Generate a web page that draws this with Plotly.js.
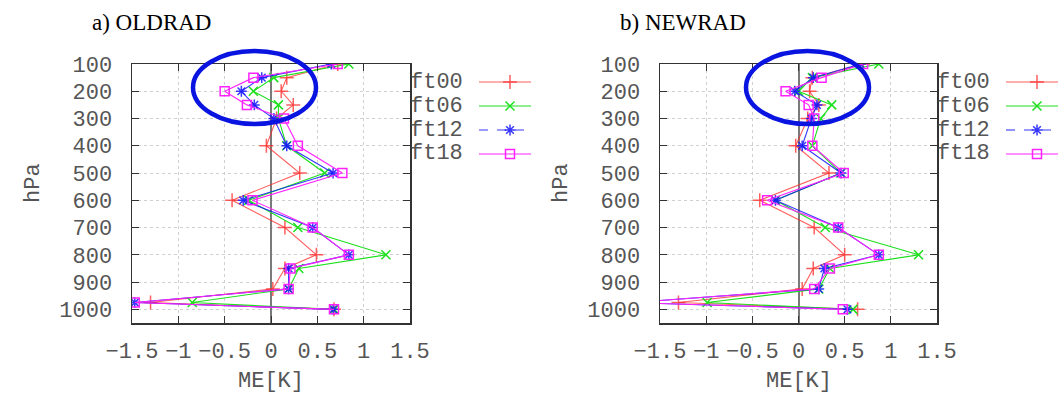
<!DOCTYPE html>
<html>
<head>
<meta charset="utf-8">
<script src="https://cdn.plot.ly/plotly-3.0.1.min.js"></script>
<style>html,body{margin:0;padding:0;background:#fff;}#chart{width:1061px;height:396px;}</style>
</head>
<body>
<div id="chart"></div>
<script>
// ---- data ----
const levels = [100, 150, 200, 250, 300, 400, 500, 600, 700, 800, 850, 925, 975, 1000];
const seriesNames = ['ft00', 'ft06', 'ft12', 'ft18'];
const panelTitles = ['a) OLDRAD', 'b) NEWRAD'];
const xTickVals = [-1.5, -1, -0.5, 0, 0.5, 1, 1.5];
const xTickText = ['\u22121.5', '\u22121', '\u22120.5', '0', '0.5', '1', '1.5'];
const yTickVals = [100, 200, 300, 400, 500, 600, 700, 800, 900, 1000];

// OLDRAD (panel a)
const old_ft00 = [0.72, 0.17, 0.11, 0.24, 0.06, -0.05, 0.31, -0.42, 0.15, 0.49, 0.15, 0.02, -1.30, 0.68];
const old_ft06 = [0.84, 0.03, -0.19, 0.08, 0.08, 0.17, 0.58, -0.24, 0.29, 1.24, 0.30, 0.19, -0.85, 0.68];
const old_ft12 = [0.65, -0.10, -0.32, -0.18, 0.03, 0.17, 0.67, -0.30, 0.45, 0.84, 0.19, 0.19, -1.47, 0.67];
const old_ft18 = [0.72, -0.19, -0.50, -0.26, 0.14, 0.29, 0.77, -0.20, 0.45, 0.84, 0.21, 0.19, -1.47, 0.68];

// NEWRAD (panel b)
const new_ft00 = [0.70, 0.15, 0.12, 0.22, 0.10, -0.03, 0.33, -0.42, 0.17, 0.50, 0.16, 0.04, -1.30, 0.64];
const new_ft06 = [0.87, 0.15, 0.00, 0.36, 0.24, 0.15, 0.46, -0.25, 0.29, 1.30, 0.34, 0.22, -0.99, 0.59];
const new_ft12 = [0.67, 0.16, -0.04, 0.20, 0.14, 0.04, 0.46, -0.25, 0.43, 0.87, 0.28, 0.22, -1.80, 0.53];
const new_ft18 = [0.70, 0.25, -0.14, 0.11, 0.17, 0.15, 0.49, -0.34, 0.43, 0.87, 0.34, 0.17, -1.80, 0.48];

// ---- styles ----
const styles = [
  {color: 'rgba(255,40,40,0.75)', symbol: 'cross-thin-open', size: 10},
  {color: '#1ee01e', symbol: 'x-thin-open', size: 9},
  {color: 'rgba(20,20,255,0.85)', symbol: 'asterisk-open', size: 9},
  {color: '#ff22ff', symbol: 'square-open', size: 9}
];

const W = 1061, H = 396;
function px(x) { return x / W; }
function py(y) { return 1 - y / H; }

const panels = [
  {data: [old_ft00, old_ft06, old_ft12, old_ft18], xa: 'x', ya: 'y', left: 132, right: 410},
  {data: [new_ft00, new_ft06, new_ft12, new_ft18], xa: 'x2', ya: 'y2', left: 660, right: 937}
];

const traces = [];
panels.forEach(p => {
  p.data.forEach((vals, i) => {
    const s = styles[i];
    traces.push({
      type: 'scatter', mode: 'lines+markers',
      x: vals, y: levels, xaxis: p.xa, yaxis: p.ya,
      name: seriesNames[i], showlegend: false,
      line: {color: s.color, width: 1.1},
      marker: {symbol: s.symbol, size: s.size, color: s.color, line: {color: s.color, width: 1.5}}
    });
  });
});

// legend samples (drawn on an overlay axis in pixel units)
const legendRowsY = [82, 106, 130, 154];
panels.forEach(p => {
  seriesNames.forEach((n, i) => {
    const s = styles[i];
    const x0 = p.right + 69, x1 = p.right + 121, xm = p.right + 100;
    traces.push({
      type: 'scatter', mode: 'lines', xaxis: 'x3', yaxis: 'y3', showlegend: false, hoverinfo: 'skip',
      x: [x0, x1], y: [legendRowsY[i], legendRowsY[i]],
      line: {color: s.color, width: 1.1, dash: i === 2 ? 'dash' : 'solid'}
    });
    traces.push({
      type: 'scatter', mode: 'markers', xaxis: 'x3', yaxis: 'y3', showlegend: false, hoverinfo: 'skip',
      x: [xm], y: [legendRowsY[i]], cliponaxis: false,
      marker: {symbol: s.symbol, size: s.size, color: s.color, line: {color: s.color, width: 1.5}}
    });
  });
});

const tickFont = {family: 'Liberation Mono, Courier New, monospace', size: 22, color: '#555'};
function xAxis(p) {
  return {
    domain: [px(p.left), px(p.right)], range: [-1.5, 1.5], autorange: false,
    tickvals: xTickVals, ticktext: xTickText, tickfont: tickFont,
    ticks: 'inside', ticklen: 7, tickcolor: '#333', tickwidth: 1,
    showline: true, linecolor: '#333', linewidth: 1.5, mirror: 'ticks',
    showgrid: true, gridcolor: '#d0d0d0', griddash: 'dot', gridwidth: 1,
    zeroline: true, zerolinecolor: '#7a7a7a', zerolinewidth: 2,
    ticklabelstandoff: 7, fixedrange: true
  };
}
function yAxis(p, anchor) {
  return {
    domain: [py(323), py(64)], range: [1050, 100], autorange: false,
    tickvals: yTickVals, tickfont: tickFont, anchor: anchor,
    ticks: 'inside', ticklen: 7, tickcolor: '#333', tickwidth: 1,
    showline: true, linecolor: '#333', linewidth: 1.5, mirror: 'ticks',
    showgrid: true, gridcolor: '#d0d0d0', griddash: 'dot', gridwidth: 1,
    zeroline: false, ticklabelstandoff: 14, fixedrange: true
  };
}

const annotations = [];
const legendFont = {family: 'Liberation Mono, Courier New, monospace', size: 22, color: '#555'};
panels.forEach((p, k) => {
  annotations.push({xref: 'paper', yref: 'paper', x: px(p.left - 42), y: py(23), xanchor: 'left', yanchor: 'middle',
    text: panelTitles[k], showarrow: false, font: {family: 'Liberation Serif, Times New Roman, serif', size: 23, color: '#000'}});
  annotations.push({xref: 'paper', yref: 'paper', x: px(p.left - 99), y: py(183), xanchor: 'center', yanchor: 'middle',
    text: 'hPa', textangle: -90, showarrow: false, font: legendFont});
  annotations.push({xref: 'paper', yref: 'paper', x: px((p.left + p.right) / 2), y: py(368), xanchor: 'center', yanchor: 'top',
    text: 'ME[K]', showarrow: false, font: legendFont, borderpad: 0});
  seriesNames.forEach((n, i) => {
    annotations.push({xref: 'paper', yref: 'paper', x: px(p.right - 2), y: py(legendRowsY[i]), xanchor: 'left', yanchor: 'middle',
      text: n, showarrow: false, font: legendFont});
  });
});

const shapes = [
  {type: 'circle', xref: 'paper', yref: 'paper', x0: px(193), x1: px(316), y0: py(51), y1: py(124),
   line: {color: 'rgb(10,20,225)', width: 4.5}},
  {type: 'circle', xref: 'paper', yref: 'paper', x0: px(746), x1: px(869), y0: py(51), y1: py(124),
   line: {color: 'rgb(10,20,225)', width: 4.5}}
];

const layout = {
  width: W, height: H,
  margin: {l: 0, r: 0, t: 0, b: 0},
  paper_bgcolor: '#fff', plot_bgcolor: 'rgba(0,0,0,0)',
  showlegend: false,
  xaxis: Object.assign(xAxis(panels[0]), {anchor: 'y'}),
  yaxis: yAxis(panels[0], 'x'),
  xaxis2: Object.assign(xAxis(panels[1]), {anchor: 'y2'}),
  yaxis2: yAxis(panels[1], 'x2'),
  xaxis3: {domain: [0, 1], range: [0, W], visible: false, fixedrange: true, anchor: 'y3'},
  yaxis3: {domain: [0, 1], range: [H, 0], visible: false, fixedrange: true, anchor: 'x3'},
  annotations: annotations,
  shapes: shapes
};

Plotly.newPlot('chart', traces, layout, {staticPlot: true, displayModeBar: false});
</script>
</body>
</html>
